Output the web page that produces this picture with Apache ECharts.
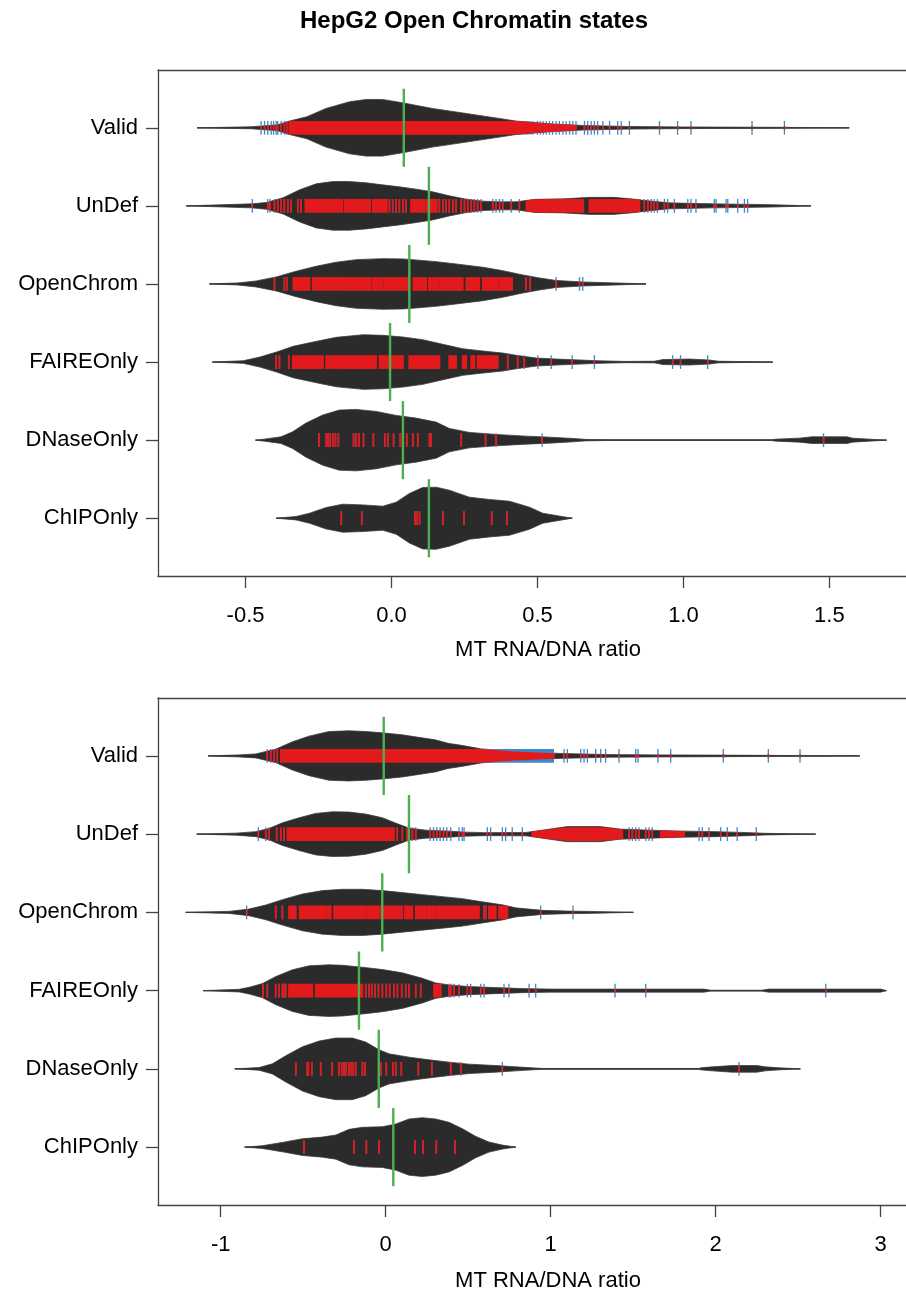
<!DOCTYPE html>
<html>
<head>
<meta charset="utf-8">
<script src="https://cdn.jsdelivr.net/npm/echarts@6/dist/echarts.min.js"></script>
<style>
  html, body { margin: 0; padding: 0; background: #fff; }
  #chart { width: 906px; height: 1296px; }
</style>
</head>
<body>
<div id="chart"></div>
<script>
// ---- data ---------------------------------------------------------------
const chartTitle = 'HepG2 Open Chromatin states';
const axisTitle = 'MT RNA/DNA ratio';
const groups = ['Valid', 'UnDef', 'OpenChrom', 'FAIREOnly', 'DNaseOnly', 'ChIPOnly'];
const topTickValues = [-0.5, 0, 0.5, 1, 1.5];
const bottomTickValues = [-1, 0, 1, 2, 3];

// kernel density outlines, [ratio, relative density]
const topDensity = {
  Valid: [[-0.666,0],[-0.48,1],[-0.39,3],[-0.35,6.7],[-0.29,11],[-0.225,19.3],[-0.144,26],[-0.087,28.3],[-0.031,28.3],[0.038,25],[0.14,19.3],[0.256,14.3],[0.37,9.3],[0.427,6.7],[0.541,4],[0.655,2.3],[0.815,1.3],[1.0,0.8],[1.3,0.5],[1.568,0]],
  UnDef: [[-0.703,0],[-0.589,1],[-0.48,2],[-0.43,3.3],[-0.372,8],[-0.315,16],[-0.258,22],[-0.201,24.3],[-0.144,24.3],[-0.087,23],[-0.031,21],[0.027,19],[0.084,16.7],[0.141,14],[0.198,10],[0.256,6.7],[0.313,4.7],[0.37,4],[0.427,4],[0.49,6.5],[0.59,7],[0.68,8.5],[0.76,8.5],[0.82,7],[0.88,5],[0.95,3],[1.1,2],[1.3,1.2],[1.437,0]],
  OpenChrom: [[-0.624,0],[-0.527,1],[-0.464,3],[-0.395,7],[-0.327,12.7],[-0.258,17.7],[-0.19,21.7],[-0.121,24.3],[-0.03,25.3],[0.039,25],[0.084,24],[0.153,22.3],[0.221,20],[0.313,16.7],[0.381,13.3],[0.45,9],[0.507,6],[0.564,3.5],[0.655,2],[0.769,1],[0.872,0]],
  FAIREOnly: [[-0.614,0],[-0.508,1.3],[-0.451,5],[-0.394,10],[-0.337,15.7],[-0.257,20.7],[-0.189,24.7],[-0.097,27.3],[-0.029,26.7],[0.039,25],[0.107,22.3],[0.176,17.7],[0.244,13.3],[0.313,11],[0.381,9],[0.427,6.7],[0.496,4],[0.564,3],[0.707,1.3],[0.8,0.6],[0.9,0.8],[0.93,2.5],[1.02,3],[1.09,2],[1.12,0.8],[1.306,0]],
  DNaseOnly: [[-0.466,0],[-0.436,1],[-0.379,3.3],[-0.339,8.3],[-0.293,17],[-0.236,25],[-0.179,30],[-0.121,30.7],[-0.053,28.7],[0.016,24.7],[0.084,22],[0.153,18],[0.198,11.7],[0.267,7.7],[0.358,5.7],[0.461,4],[0.541,3],[0.621,1.7],[0.667,0.7],[0.75,0.3],[1.3,0.3],[1.317,1],[1.397,2],[1.44,3.3],[1.56,3.3],[1.58,2],[1.636,1],[1.696,0]],
  ChIPOnly: [[-0.395,0],[-0.327,1.7],[-0.281,5],[-0.224,10.7],[-0.167,14],[-0.098,13.3],[-0.03,12],[0.016,16],[0.061,24.7],[0.107,30.7],[0.153,31],[0.198,28],[0.267,21],[0.336,18.7],[0.404,17],[0.473,11],[0.518,5],[0.564,2.7],[0.619,0]]
};
const bottomDensity = {
  Valid: [[-1.077,0],[-0.889,1],[-0.788,2],[-0.667,6.7],[-0.566,14],[-0.465,19.7],[-0.344,24.3],[-0.223,25],[-0.122,24.3],[-0.02,23],[0.1,21],[0.22,18],[0.3,16],[0.38,12.5],[0.46,10.5],[0.58,7],[0.78,4.5],[1.05,2.5],[1.35,1.3],[1.65,1],[2.0,0.8],[2.873,0]],
  UnDef: [[-1.145,0],[-0.908,1],[-0.787,2.5],[-0.707,5.7],[-0.626,11.3],[-0.525,16.3],[-0.424,20.7],[-0.323,22.3],[-0.222,22],[-0.121,20],[-0.02,16.3],[0.06,11],[0.141,6],[0.242,4],[0.384,3],[0.485,2],[0.6,1.5],[0.85,1.7],[0.95,4],[1.1,7.5],[1.3,7.5],[1.42,5],[1.6,4],[1.8,3],[2.0,2.5],[2.2,1.5],[2.3,0.8],[2.606,0]],
  OpenChrom: [[-1.212,0],[-0.95,1],[-0.829,3.3],[-0.727,7.3],[-0.626,12.7],[-0.505,18.3],[-0.384,21.7],[-0.263,23],[-0.141,23],[-0.02,21.7],[0.101,19.7],[0.222,17.7],[0.343,15.7],[0.465,13.7],[0.586,10.5],[0.707,7.5],[0.788,4.5],[0.95,2],[1.1,1.3],[1.22,1],[1.501,0]],
  FAIREOnly: [[-1.107,0],[-0.888,1.3],[-0.828,3.3],[-0.747,7],[-0.666,14],[-0.566,20.7],[-0.465,24.7],[-0.344,25.7],[-0.263,25.3],[-0.141,23.3],[-0.02,21],[0.101,17.7],[0.222,12.3],[0.303,7.7],[0.384,5.7],[0.505,4],[0.667,3],[0.828,2],[0.99,1.5],[1.93,1.5],[1.97,0.4],[2.28,0.4],[2.32,1.5],[3.0,1.5],[3.034,0]],
  DNaseOnly: [[-0.915,0],[-0.768,1.3],[-0.687,5],[-0.606,13],[-0.505,22],[-0.404,27.7],[-0.303,30.7],[-0.202,30.7],[-0.121,26.7],[-0.04,19],[0.02,15],[0.141,11.7],[0.262,9],[0.384,6.7],[0.505,4.7],[0.667,3.3],[0.788,2],[0.889,1],[0.95,0.4],[1.9,0.4],[1.909,1],[1.98,2],[2.1,3.3],[2.25,3.3],[2.3,2],[2.384,1],[2.513,0]],
  ChIPOnly: [[-0.855,0],[-0.75,1.3],[-0.626,4.7],[-0.505,8.3],[-0.384,10],[-0.303,12],[-0.222,17.7],[-0.141,19.7],[-0.02,20.3],[0.061,23],[0.141,28],[0.222,29.3],[0.303,28],[0.384,24.7],[0.465,18.3],[0.545,10.7],[0.626,5],[0.707,2],[0.788,0]]
};

// single observations (bean lines)
const topObs = {
  Valid: [-0.447,-0.435,-0.424,-0.412,-0.404,-0.395,-0.39,-0.378,-0.367,-0.359,0.44,0.45,0.46,0.467,0.475,0.484,0.5,0.51,0.52,0.53,0.541,0.552,0.564,0.575,0.587,0.598,0.61,0.621,0.632,0.661,0.672,0.684,0.695,0.706,0.724,0.747,0.775,0.787,0.815,0.918,0.98,1.026,1.235,1.346],
  UnDef: [-0.477,-0.424,-0.416,-0.401,-0.39,-0.378,-0.367,-0.355,-0.344,-0.321,-0.31,-0.007,0.004,0.016,0.027,0.039,0.05,0.164,0.176,0.187,0.198,0.21,0.221,0.239,0.25,0.261,0.273,0.284,0.295,0.307,0.347,0.358,0.37,0.381,0.41,0.438,0.866,0.878,0.89,0.9,0.911,0.935,0.946,0.969,1.015,1.026,1.043,1.106,1.112,1.146,1.152,1.186,1.209,1.22],
  OpenChrom: [-0.401,-0.367,-0.359,0.461,0.475,0.564,0.644,0.655],
  FAIREOnly: [-0.395,-0.384,-0.352,0.398,0.432,0.455,0.501,0.547,0.619,0.695,0.963,0.99,1.083],
  DNaseOnly: [-0.249,-0.224,-0.218,-0.21,-0.201,-0.192,-0.182,-0.13,-0.121,-0.112,-0.096,-0.062,-0.023,-0.012,0.007,0.03,0.052,0.073,0.09,0.13,0.136,0.239,0.322,0.358,0.516,1.48],
  ChIPOnly: [-0.172,-0.102,0.081,0.088,0.096,0.176,0.248,0.343,0.396]
};
const bottomObs = {
  Valid: [-0.718,-0.697,-0.677,-0.657,1.081,1.101,1.182,1.202,1.222,1.273,1.303,1.333,1.414,1.515,1.529,1.65,1.727,2.046,2.319,2.511],
  UnDef: [-0.772,-0.727,-0.707,-0.661,-0.636,-0.616,0.07,0.101,0.131,0.162,0.182,0.27,0.29,0.31,0.33,0.35,0.37,0.394,0.444,0.464,0.475,0.616,0.636,0.707,0.727,0.767,0.828,1.475,1.495,1.515,1.535,1.576,1.596,1.616,1.899,1.919,1.959,2.03,2.07,2.13,2.246],
  OpenChrom: [-0.843,-0.667,-0.626,0.596,0.606,0.939,1.135],
  FAIREOnly: [-0.744,-0.717,-0.667,-0.646,-0.626,-0.616,-0.606,-0.121,-0.101,-0.085,-0.065,-0.044,-0.02,0.004,0.024,0.05,0.071,0.097,0.121,0.141,0.182,0.212,0.333,0.384,0.394,0.414,0.444,0.495,0.515,0.576,0.596,0.717,0.747,0.869,0.909,1.39,1.576,2.667],
  DNaseOnly: [-0.545,-0.475,-0.469,-0.448,-0.394,-0.324,-0.284,-0.267,-0.253,-0.239,-0.222,-0.208,-0.196,-0.182,-0.141,-0.125,-0.03,0.004,0.044,0.061,0.095,0.198,0.279,0.394,0.455,0.707,2.141],
  ChIPOnly: [-0.495,-0.192,-0.117,-0.041,0.178,0.226,0.307,0.42]
};

// runs of observations too close together to separate, [from, to]
const topRuns = {
  Valid: [[-0.35,0.63]],
  UnDef: [[-0.295,-0.169],[-0.161,-0.073],[-0.064,-0.016],[0.067,0.113],[0.119,0.155],[0.462,0.657],[0.678,0.849]],
  OpenChrom: [[-0.336,-0.281],[-0.27,-0.146],[-0.142,-0.073],[-0.066,-0.03],[-0.024,0.061],[0.075,0.119],[0.128,0.158],[0.164,0.244],[0.256,0.301],[0.313,0.364],[0.37,0.413]],
  FAIREOnly: [[-0.338,-0.235],[-0.224,-0.172],[-0.167,-0.053],[-0.041,0.039],[0.061,0.164],[0.198,0.221],[0.244,0.256],[0.273,0.284],[0.295,0.364]]
};
const bottomRuns = {
  Valid: [[-0.635,1.02]],
  UnDef: [[-0.596,0.05],[0.889,1.434],[1.667,1.808]],
  OpenChrom: [[-0.586,-0.545],[-0.521,-0.495],[-0.485,-0.445],[-0.435,-0.404],[-0.394,-0.364],[-0.354,-0.333],[-0.313,-0.222],[-0.212,-0.121],[-0.111,-0.041],[-0.03,0.02],[0.03,0.101],[0.117,0.161],[0.182,0.242],[0.252,0.303],[0.313,0.384],[0.394,0.475],[0.485,0.565],[0.626,0.667],[0.687,0.737]],
  FAIREOnly: [[-0.586,-0.505],[-0.5,-0.445],[-0.424,-0.263],[-0.253,-0.222],[-0.212,-0.141],[0.293,0.323]]
};
// dense runs in the thin tails, where the full-length lines show
const bottomTailRuns = { Valid: [[0.565,1.02]] };

const topMedians = [0.042, 0.128, 0.061, -0.005, 0.039, 0.128];
const bottomMedians = [-0.012, 0.141, -0.021, -0.162, -0.042, 0.046];

// ---- drawing ------------------------------------------------------------
const FONT = 'Liberation Sans, Arial, sans-serif';
const DENS_SCALE = 1 / 78;   // relative density -> category units
const LINE_HALF = 0.088;     // half length of an observation line
const MIN_RED_HALF = 0.022;
const MEDIAN_HALF = 0.5;
const RED = '#e31a1c', BLUE = '#3f88c8', GREEN = '#4cb050', BEAN = '#2b2b2b';

const rowOf = i => groups.length - i;

function densityAt(profile, x) {
  const n = profile.length;
  if (x <= profile[0][0] || x >= profile[n - 1][0]) return 0;
  for (let k = 1; k < n; k++) {
    if (x <= profile[k][0]) {
      const [x0, d0] = profile[k - 1], [x1, d1] = profile[k];
      return d0 + (d1 - d0) * (x - x0) / (x1 - x0);
    }
  }
  return 0;
}
function redHalf(profile, x) {
  return Math.min(LINE_HALF, Math.max(densityAt(profile, x) * DENS_SCALE, MIN_RED_HALF));
}

function beanSeries(p, density, medians) {
  return {
    type: 'custom', xAxisIndex: p, yAxisIndex: p, silent: true, z: 2,
    data: groups.map((g, i) => [medians[i], rowOf(i), i]),
    renderItem(params, api) {
      const i = api.value(2), yc = api.value(1);
      const prof = density[groups[i]];
      const up = prof.map(([x, d]) => api.coord([x, yc + d * DENS_SCALE]));
      const dn = prof.slice().reverse().map(([x, d]) => api.coord([x, yc - d * DENS_SCALE]));
      const a = api.coord([prof[0][0], yc]);
      const b = api.coord([prof[prof.length - 1][0], yc]);
      return { type: 'group', children: [
        { type: 'line', shape: { x1: a[0], y1: a[1], x2: b[0], y2: b[1] },
          style: { stroke: '#333', lineWidth: 1.2 } },
        { type: 'polygon', shape: { points: up.concat(dn) },
          style: { fill: BEAN, stroke: '#3c3c3c', lineWidth: 0.8 } }
      ]};
    }
  };
}

function obsData(obs) {
  const out = [];
  groups.forEach((g, i) => (obs[g] || []).forEach(v => out.push([v, rowOf(i), i])));
  return out;
}
function runData(runs) {
  const out = [];
  groups.forEach((g, i) => (runs[g] || []).forEach(([s, e]) => out.push([s, rowOf(i), i, e])));
  return out;
}

function obsSeries(p, obs, density, red) {
  return {
    type: 'custom', xAxisIndex: p, yAxisIndex: p, silent: true, z: red ? 5 : 3,
    data: obsData(obs),
    renderItem(params, api) {
      const v = api.value(0), yc = api.value(1), i = api.value(2);
      const h = red ? redHalf(density[groups[i]], v) : LINE_HALF;
      const p1 = api.coord([v, yc + h]), p2 = api.coord([v, yc - h]);
      return { type: 'line', shape: { x1: p1[0], y1: p1[1], x2: p2[0], y2: p2[1] },
        style: { stroke: red ? RED : BLUE, lineWidth: red ? 1.8 : 1.3 } };
    }
  };
}

// full-length blue block behind a tail run
function tailRunSeries(p, runs) {
  return {
    type: 'custom', xAxisIndex: p, yAxisIndex: p, silent: true, z: 3,
    data: runData(runs),
    renderItem(params, api) {
      const s = api.value(0), yc = api.value(1), e = api.value(3);
      const a = api.coord([s, yc + LINE_HALF]), b = api.coord([e, yc - LINE_HALF]);
      return { type: 'rect', shape: { x: a[0], y: a[1], width: b[0] - a[0], height: b[1] - a[1] },
        style: { fill: BLUE } };
    }
  };
}

// red block clipped to the bean outline
function runSeries(p, runs, density) {
  return {
    type: 'custom', xAxisIndex: p, yAxisIndex: p, silent: true, z: 4,
    data: runData(runs),
    renderItem(params, api) {
      const s = api.value(0), yc = api.value(1), i = api.value(2), e = api.value(3);
      const prof = density[groups[i]];
      const xs = [s].concat(prof.map(q => q[0]).filter(x => x > s && x < e), [e]);
      const up = xs.map(x => api.coord([x, yc + redHalf(prof, x)]));
      const dn = xs.slice().reverse().map(x => api.coord([x, yc - redHalf(prof, x)]));
      up[0][0] -= 0.9; dn[dn.length - 1][0] -= 0.9;
      up[up.length - 1][0] += 0.9; dn[0][0] += 0.9;
      return { type: 'polygon', shape: { points: up.concat(dn) }, style: { fill: RED } };
    }
  };
}

function medianSeries(p, medians) {
  return {
    type: 'custom', xAxisIndex: p, yAxisIndex: p, silent: true, z: 6,
    data: groups.map((g, i) => [medians[i], rowOf(i)]),
    renderItem(params, api) {
      const v = api.value(0), yc = api.value(1);
      const a = api.coord([v, yc + MEDIAN_HALF]), b = api.coord([v, yc - MEDIAN_HALF]);
      return { type: 'line', shape: { x1: a[0], y1: a[1], x2: b[0], y2: b[1] },
        style: { stroke: GREEN, lineWidth: 2.4 } };
    }
  };
}

const AXIS_COLOR = '#444';
function ratioAxis(gridIndex, min, max, ticks, fmt, nameGap) {
  return {
    type: 'value', gridIndex, min, max, position: 'bottom',
    axisLine: { show: true, onZero: false, lineStyle: { color: AXIS_COLOR, width: 1.3 } },
    axisTick: { show: true, length: 12, customValues: ticks, lineStyle: { color: AXIS_COLOR, width: 1.3 } },
    axisLabel: { show: true, customValues: ticks, formatter: fmt, fontSize: 22, color: '#000',
      fontFamily: FONT, margin: 29 },
    splitLine: { show: false },
    name: axisTitle, nameLocation: 'middle', nameGap,
    nameTextStyle: { fontSize: 22, color: '#000', fontFamily: FONT, padding: [0, 0, 0, 32] }
  };
}
function frameTop(gridIndex, min, max) {
  return {
    type: 'value', gridIndex, min, max, position: 'top',
    axisLine: { show: true, onZero: false, lineStyle: { color: AXIS_COLOR, width: 1.3 } },
    axisTick: { show: false }, axisLabel: { show: false }, splitLine: { show: false }
  };
}
function groupAxis(gridIndex) {
  const rows = groups.map((g, i) => rowOf(i));
  return {
    type: 'value', gridIndex, min: 0.26, max: 6.74,
    axisLine: { show: true, onZero: false, lineStyle: { color: AXIS_COLOR, width: 1.3 } },
    axisTick: { show: true, length: 12, customValues: rows, lineStyle: { color: AXIS_COLOR, width: 1.3 } },
    axisLabel: { show: true, customValues: rows, formatter: v => groups[groups.length - Math.round(v)],
      fontSize: 22, color: '#000', fontFamily: FONT, margin: 20 },
    splitLine: { show: false }
  };
}

const TOP_MIN = -0.80, TOP_MAX = 1.7625;
const BOT_MIN = -1.38, BOT_MAX = 3.1533;

const chart = echarts.init(document.getElementById('chart'), null, { renderer: 'canvas' });
chart.setOption({
  backgroundColor: '#fff',
  animation: false,
  graphic: [{
    type: 'text', x: 474, y: 21,
    style: { text: chartTitle, font: 'bold 24px ' + FONT, fill: '#000',
      textAlign: 'center', textVerticalAlign: 'middle' }
  }],
  grid: [
    { left: 158, top: 70, right: 0, height: 506 },
    { left: 158, top: 698, right: 0, height: 507 }
  ],
  xAxis: [
    ratioAxis(0, TOP_MIN, TOP_MAX, topTickValues, v => v.toFixed(1), 63),
    ratioAxis(1, BOT_MIN, BOT_MAX, bottomTickValues, v => String(v), 65),
    frameTop(0, TOP_MIN, TOP_MAX),
    frameTop(1, BOT_MIN, BOT_MAX)
  ],
  yAxis: [groupAxis(0), groupAxis(1)],
  series: [
    beanSeries(0, topDensity, topMedians),
    obsSeries(0, topObs, topDensity, false),
    runSeries(0, topRuns, topDensity),
    obsSeries(0, topObs, topDensity, true),
    medianSeries(0, topMedians),
    beanSeries(1, bottomDensity, bottomMedians),
    obsSeries(1, bottomObs, bottomDensity, false),
    tailRunSeries(1, bottomTailRuns),
    runSeries(1, bottomRuns, bottomDensity),
    obsSeries(1, bottomObs, bottomDensity, true),
    medianSeries(1, bottomMedians)
  ]
});
</script>
</body>
</html>
